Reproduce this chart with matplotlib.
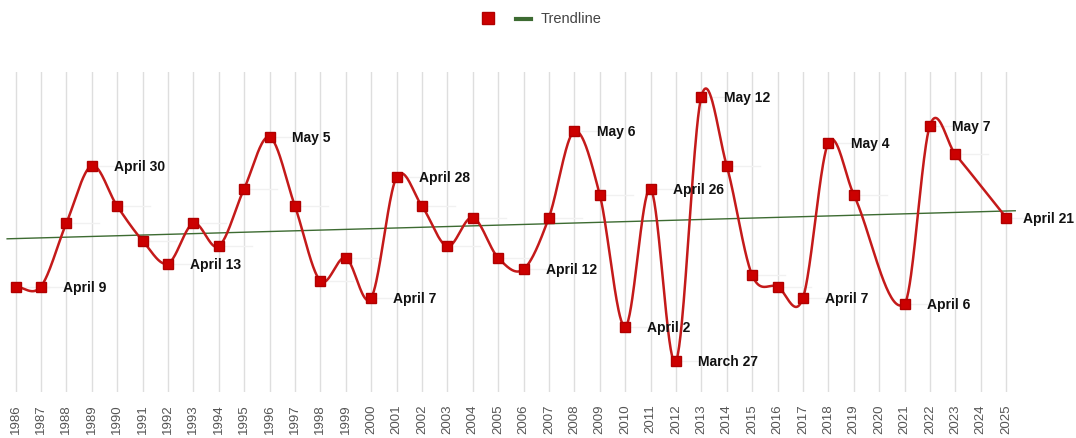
# Fechas por año (día del año) con curva suavizada y línea de tendencia

import numpy as np
import matplotlib.pyplot as plt
from matplotlib.lines import Line2D

plt.rcParams['font.family'] = ['Liberation Sans', 'DejaVu Sans']

# DATOS (2020 y 2024 sin valor)
years = [1986, 1987, 1988, 1989, 1990, 1991, 1992, 1993, 1994, 1995,
         1996, 1997, 1998, 1999, 2000, 2001, 2002, 2003, 2004, 2005,
         2006, 2007, 2008, 2009, 2010, 2011, 2012, 2013, 2014, 2015,
         2016, 2017, 2018, 2019, 2021, 2022, 2023, 2025]
days = [99, 99, 110, 120, 113, 107, 103, 110, 106, 116,
        125, 113, 100, 104, 97, 118, 113, 106, 111, 104,
        102, 111, 126, 115, 92, 116, 86, 132, 120, 101,
        99, 97, 124, 115, 96, 127, 122, 111]
tick_years = list(range(1986, 2026))

label_years = [1987, 1989, 1992, 1996, 2000, 2001, 2006, 2008, 2010,
               2011, 2012, 2013, 2017, 2018, 2021, 2022, 2025]
label_texts = ['April 9', 'April 30', 'April 13', 'May 5', 'April 7',
               'April 28', 'April 12', 'May 6', 'April 2', 'April 26',
               'March 27', 'May 12', 'April 7', 'May 4', 'April 6',
               'May 7', 'April 21']

# curva suave tipo Catmull-Rom (Hermite cúbico con pendientes centradas)
def curva_suave(x, y, n=40):
    x = np.asarray(x, float)
    y = np.asarray(y, float)
    m = np.zeros_like(y)
    m[0] = (y[1] - y[0]) / (x[1] - x[0])
    m[-1] = (y[-1] - y[-2]) / (x[-1] - x[-2])
    m[1:-1] = (y[2:] - y[:-2]) / (x[2:] - x[:-2])
    xs, ys = [], []
    for i in range(len(x) - 1):
        h = x[i + 1] - x[i]
        t = np.linspace(0, 1, n)
        h00 = 2*t**3 - 3*t**2 + 1
        h10 = t**3 - 2*t**2 + t
        h01 = -2*t**3 + 3*t**2
        h11 = t**3 - t**2
        xs.append(x[i] + t*h)
        ys.append(h00*y[i] + h10*h*m[i] + h01*y[i + 1] + h11*h*m[i + 1])
    return np.concatenate(xs), np.concatenate(ys)

fig = plt.figure(figsize=(10.76, 4.39), dpi=100)
ax = fig.add_axes([0, 46/439, 1, 320/439])
ax.set_xlim(1986 - 15.5/25.4, 1986 + (1076 - 15.5)/25.4)
ax.set_ylim(80.66, 136.31)

for s in ax.spines.values():
    s.set_visible(False)
ax.set_yticks([])
ax.set_xticks(tick_years)
ax.set_xticklabels([str(a) for a in tick_years], rotation=90,
                   fontsize=9.5, color='#555555')
ax.tick_params(axis='x', length=0, pad=8)
for a in tick_years:
    ax.axvline(a, color='#dedede', lw=1, zorder=0)

# líneas guía tenues hacia la derecha de cada punto
for a, d in zip(years, days):
    ax.plot([a + 0.25, a + 1.3], [d, d], color='#f1f1f1', lw=1, zorder=1)

# tendencia lineal
coef = np.polyfit(years, days, 1)
xt = np.array([1985.67, 2025.36])
ax.plot(xt, np.polyval(coef, xt), color='#3d6b32', lw=1, zorder=2)

xs, ys = curva_suave(years, days)
ax.plot(xs, ys, color='#c41a1a', lw=1.8, zorder=3)
ax.plot(years, days, 's', color='#cc0000', ms=6.5, mec='#b00000', zorder=4)

for a, txt in zip(label_years, label_texts):
    d = days[years.index(a)]
    dx = 12 if a == years[-1] else 16
    ax.annotate(txt, (a, d), xytext=(dx, 0), textcoords='offset points',
                va='center', ha='left', fontsize=10, fontweight='bold',
                color='#111111', clip_on=False, zorder=5)

# leyenda
fig.add_artist(Line2D([487.7/1076], [1 - 19/439], marker='s', ms=8,
                      color='#cc0000', mec='#b00000', ls='none'))
fig.add_artist(Line2D([516/1076, 531/1076], [1 - 20/439, 1 - 20/439],
                      color='#3d6b32', lw=3))
fig.text(541/1076, 1 - 19/439, 'Trendline', fontsize=10.5,
         color='#444444', va='center', ha='left')

plt.savefig('out.png')
